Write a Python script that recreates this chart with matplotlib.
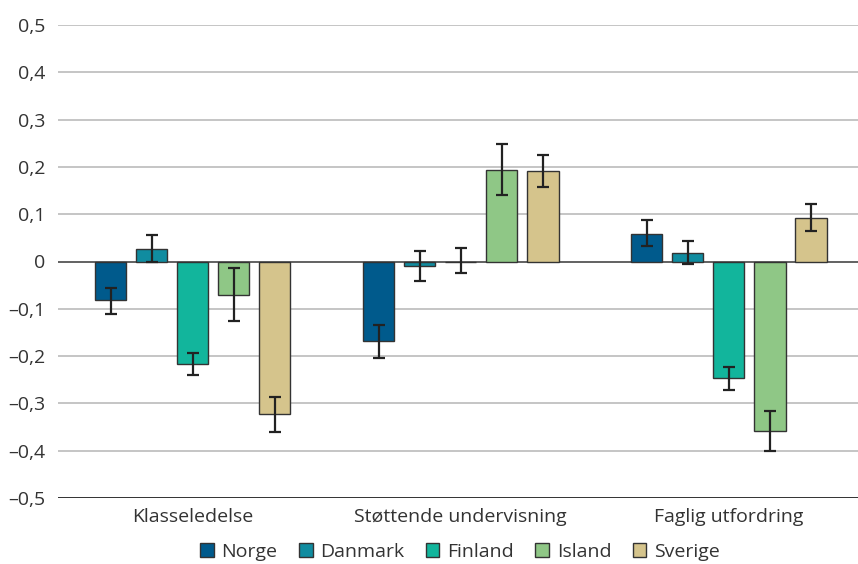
import matplotlib
matplotlib.use("Agg")
import matplotlib.pyplot as plt
from matplotlib.patches import Patch
import numpy as np

plt.rcParams['font.family'] = ['Open Sans', 'DejaVu Sans']

categories = ["Klasseledelse", "Støttende undervisning", "Faglig utfordring"]
countries = ["Norge", "Danmark", "Finland", "Island", "Sverige"]
colors = ["#005a8c", "#108ca0", "#12b59c", "#8fc786", "#d5c48c"]

norge = [-0.081, -0.168, 0.059]
danmark = [0.027, -0.010, 0.019]
finland = [-0.217, 0.000, -0.247]
island = [-0.070, 0.194, -0.358]
sverige = [-0.322, 0.191, 0.093]

norge_lo = [-0.110, -0.203, 0.032]
norge_hi = [-0.055, -0.135, 0.087]
danmark_lo = [-0.002, -0.042, -0.006]
danmark_hi = [0.056, 0.023, 0.043]
finland_lo = [-0.241, -0.025, -0.271]
finland_hi = [-0.193, 0.028, -0.222]
island_lo = [-0.125, 0.140, -0.401]
island_hi = [-0.013, 0.248, -0.316]
sverige_lo = [-0.360, 0.157, 0.064]
sverige_hi = [-0.287, 0.226, 0.122]

values = [norge, danmark, finland, island, sverige]
lows = [norge_lo, danmark_lo, finland_lo, island_lo, sverige_lo]
highs = [norge_hi, danmark_hi, finland_hi, island_hi, sverige_hi]

yticks = [0.5, 0.4, 0.3, 0.2, 0.1, 0.0, -0.1, -0.2, -0.3, -0.4, -0.5]

fig = plt.figure(figsize=(8.58, 5.64), dpi=100)
ax = fig.add_axes([58/858, 1-498/564, 800/858, (498-25)/564])

x = np.arange(len(categories))
step = 0.153
width = 0.119
for i, (name, col, vals, lo, hi) in enumerate(zip(countries, colors, values, lows, highs)):
    pos = x + (i - 2) * step
    vals = np.array(vals); lo = np.array(lo); hi = np.array(hi)
    ax.bar(pos, vals, width=width, color=col, edgecolor="#333333", linewidth=1.0, zorder=3)
    ax.errorbar(pos, (lo + hi) / 2, yerr=(hi - lo) / 2, fmt="none", ecolor="#222222",
                elinewidth=1.6, capsize=4.5, capthick=1.6, zorder=4)

ax.set_ylim(-0.5, 0.5)
ax.set_xlim(-0.502, 2.483)
ax.set_yticks(yticks)
ax.set_yticklabels([("–" if t < 0 else "") + f"{abs(t):.1f}".replace(".", ",") if t != 0 else "0" for t in yticks],
                   fontsize=14, color="#333333")
for t in yticks:
    if t == 0:
        ax.axhline(t, color="#555555", lw=1.3, zorder=2)
    elif t == -0.5:
        ax.axhline(t, color="#222222", lw=1.3, zorder=2)
    else:
        ax.axhline(t, color="#b5b5b5", lw=1.1, zorder=1)

ax.set_xticks(x)
ax.set_xticklabels(categories, fontsize=14, color="#333333")
ax.tick_params(axis="both", length=0)
ax.tick_params(axis="x", pad=7)
ax.tick_params(axis="y", pad=9)
for s in ax.spines.values():
    s.set_visible(False)

handles = [Patch(facecolor=c, edgecolor="#333333", linewidth=1.0) for c in colors]
fig.legend(handles, countries, loc="center", bbox_to_anchor=(460/858, 1-552/564), ncol=5,
           frameon=False, fontsize=14, handlelength=0.7, handleheight=0.7,
           handletextpad=0.4, columnspacing=1.1, labelcolor="#333333")

fig.savefig("out.png", dpi=100)
